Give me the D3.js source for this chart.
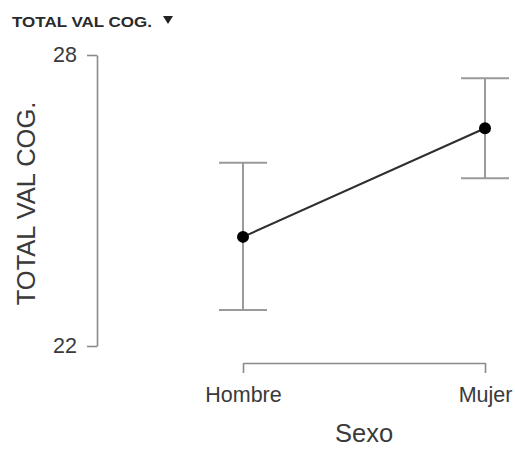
<!DOCTYPE html>
<html>
<head>
<meta charset="utf-8">
<script src="https://cdn.jsdelivr.net/npm/d3@7"></script>
<style>
  html, body { margin: 0; padding: 0; background: #fff; }
  svg { display: block; }
  text { font-family: "Liberation Sans", Arial, sans-serif; }
</style>
</head>
<body>
<svg id="chart" width="515" height="450"></svg>
<script>
// Descriptives: mean with 95% CI of TOTAL VAL COG. by Sexo
const categories = ["Hombre", "Mujer"];
const means = [24.25, 26.49];
const ciLower = [22.74, 25.46];
const ciUpper = [25.78, 27.52];
const yTicks = [22, 28];
const yTitle = "TOTAL VAL COG.";
const xTitle = "Sexo";
const headerText = "TOTAL VAL COG.";

const rows = categories.map((c, i) => ({ cat: c, mean: means[i], lo: ciLower[i], hi: ciUpper[i] }));

const svg = d3.select("#chart");

const x = d3.scalePoint().domain(categories).range([243, 485]);
const y = d3.scaleLinear().domain([22, 28]).range([346, 55]);

const axisColor = "#8a8a8a";
const textColor = "#3a3a3a";

// header
const header = svg.append("g");
header.append("text")
  .attr("x", 12).attr("y", 26.5)
  .attr("font-size", 15).attr("font-weight", "bold")
  .attr("fill", "#2a2a2a")
  .attr("textLength", 140).attr("lengthAdjust", "spacingAndGlyphs")
  .text(headerText);
header.append("path")
  .attr("d", "M163,16 L173,16 L168,24 Z")
  .attr("fill", "#222");

// y axis
const yAxis = svg.append("g")
  .attr("transform", "translate(97,0)")
  .call(d3.axisLeft(y).tickValues(yTicks).tickFormat(d3.format("d"))
    .tickSize(10).tickSizeOuter(0).tickPadding(10));
yAxis.select(".domain").attr("stroke", axisColor).attr("stroke-width", 1.6);
yAxis.selectAll(".tick line").attr("stroke", axisColor).attr("stroke-width", 1.6);
yAxis.selectAll(".tick text")
  .attr("font-size", 21.5).attr("fill", textColor)
  .attr("font-family", "'Liberation Sans', Arial, sans-serif");

// x axis
const xAxis = svg.append("g")
  .attr("transform", "translate(0,363)")
  .call(d3.axisBottom(x).tickSize(10).tickSizeOuter(0).tickPadding(14));
xAxis.select(".domain").attr("stroke", axisColor).attr("stroke-width", 1.6);
xAxis.selectAll(".tick line").attr("stroke", axisColor).attr("stroke-width", 1.6);
xAxis.selectAll(".tick text")
  .attr("font-size", 21.5).attr("fill", textColor)
  .attr("font-family", "'Liberation Sans', Arial, sans-serif");

// axis titles
svg.append("text")
  .attr("transform", `translate(35,${(y(22) + y(28)) / 2 + 3}) rotate(-90)`)
  .attr("text-anchor", "middle")
  .attr("font-size", 25.5).attr("fill", textColor)
  .text(yTitle);
svg.append("text")
  .attr("x", 364).attr("y", 442)
  .attr("text-anchor", "middle")
  .attr("font-size", 25.5).attr("fill", textColor)
  .text(xTitle);

// error bars
const capHalf = 24;
const eb = svg.append("g").attr("stroke", "#9a9a9a").attr("stroke-width", 2).attr("fill", "none");
eb.selectAll("line.v").data(rows).join("line").attr("class", "v")
  .attr("x1", d => x(d.cat)).attr("x2", d => x(d.cat))
  .attr("y1", d => y(d.lo)).attr("y2", d => y(d.hi));
eb.selectAll("line.top").data(rows).join("line").attr("class", "top")
  .attr("x1", d => x(d.cat) - capHalf).attr("x2", d => x(d.cat) + capHalf)
  .attr("y1", d => y(d.hi)).attr("y2", d => y(d.hi));
eb.selectAll("line.bot").data(rows).join("line").attr("class", "bot")
  .attr("x1", d => x(d.cat) - capHalf).attr("x2", d => x(d.cat) + capHalf)
  .attr("y1", d => y(d.lo)).attr("y2", d => y(d.lo));

// line connecting means
svg.append("path")
  .datum(rows)
  .attr("fill", "none").attr("stroke", "#2e2e2e").attr("stroke-width", 2)
  .attr("d", d3.line().x(d => x(d.cat)).y(d => y(d.mean)));

// mean points
svg.selectAll("circle.pt").data(rows).join("circle").attr("class", "pt")
  .attr("cx", d => x(d.cat)).attr("cy", d => y(d.mean))
  .attr("r", 6).attr("fill", "#000");
</script>
</body>
</html>
